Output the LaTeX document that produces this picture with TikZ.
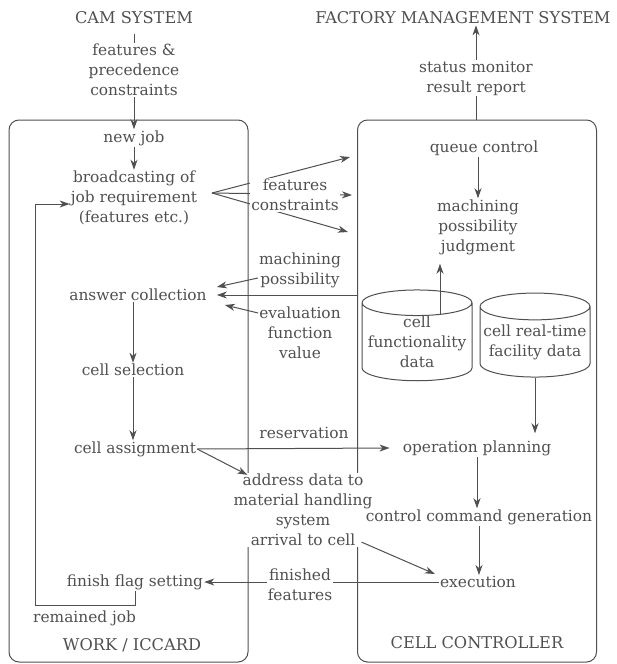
\documentclass[tikz,border=0pt]{standalone}
\usepackage{fontspec}
\setmainfont{DejaVu Serif}
\usetikzlibrary{arrows.meta,shapes.geometric}
\definecolor{ink}{HTML}{505050}
\begin{document}
\begin{tikzpicture}[x=1pt,y=-1pt,
    every node/.style={text=ink,font=\fontsize{15.4}{20}\selectfont,align=center,inner sep=1pt},
    head/.style={font=\fontsize{16.2}{20}\selectfont},
    line/.style={draw=ink,line width=1pt},
    arr/.style={line,-{Stealth[length=10pt,width=7pt,inset=3pt]}},
    cover/.style={fill=white},
    frame/.style={line,rounded corners=10pt,minimum width=239pt,minimum height=542pt},
    store/.style={cylinder,shape border rotate=90,draw=ink,line width=1pt,aspect=0.26,
        minimum width=110pt,minimum height=84pt,inner sep=0pt}]
    \useasboundingbox (0,0) rectangle (616,664);

    % Frames
    \node[frame] (workbox) at (128.5,391) {};
    \node[frame] (cellbox) at (477,391) {};

    % Outside systems
    \node[head] (cam) at (134,18) {CAM SYSTEM};
    \node[head] (fms) at (463,18) {FACTORY MANAGEMENT SYSTEM};
    \node (prec) at (134,70) {features \&\\precedence\\constraints};
    \node (status) at (476,78) {status monitor\\result report};

    % Work / ICCARD side
    \node (newjob) at (134,138) {new job};
    \node (bcast) at (134,198) {broadcasting of\\job requirement\\(features etc.)};
    \node (answer) at (138,295) {answer collection};
    \node (cellsel) at (133,370) {cell selection};
    \node (assign) at (135,449) {cell assignment};
    \node (finish) at (135,582) {finish flag setting};
    \node[anchor=west] (remained) at (32,618) {remained job};
    \node[head] (work) at (132,645) {WORK / ICCARD};

    % Broadcast fan
    \coordinate (fan) at (212,193);
    \coordinate (fan1) at (350,157);
    \coordinate (fan2) at (352,195);
    \coordinate (fan3) at (348,232);
    \foreach \t in {fan1,fan2,fan3}
        \draw[arr] (fan) -- (\t);

    % Messages between the two frames
    \node[cover] (featcon) at (295,195) {features\\constraints};
    \node (machposs) at (300,270) {machining\\possibility};
    \node (evalfv) at (300,333) {evaluation\\function\\value};
    \node (reserv) at (304,433) {reservation};
    \node[cover] (address) at (303,510) {address data to\\material handling\\system\\arrival to cell};
    \node (finfeat) at (300,585) {finished\\features};

    % Cell controller side
    \node (queue) at (484,148) {queue control};
    \node (judge) at (478,227) {machining\\possibility\\judgment};
    \node[store] (func) at (417,342) {cell\\functionality\\data};
    \node[store] (rtime) at (535,342) {cell real-time\\facility data};
    \node (plan) at (477,448) {operation planning};
    \node (ctrl) at (479,517) {control command generation};
    \node (exec) at (478,582) {execution};
    \node[head] (cellctrl) at (477,643) {CELL CONTROLLER};

    % Flow on the left
    \draw[line] ([yshift=-9pt]cam.south) -- (prec.north);
    \draw[arr] (prec.south) -- (newjob.north);
    \draw[arr] (newjob.south) -- (bcast.north);
    \draw[arr] ([yshift=-8pt]machposs.west) -- ([xshift=9pt,yshift=8pt]answer.east);
    \draw[arr] (cellbox.west |- answer) -- ([xshift=9pt]answer.east);
    \draw[arr] ([yshift=20pt]evalfv.west) -- ([xshift=17pt,yshift=-10pt]answer.east);
    \draw[arr] (cellsel.north |- answer.south) -- (cellsel.north);
    \draw[arr] (cellsel.south) -- (cellsel.south |- assign.north);
    \draw[arr] (assign.east) -- ([xshift=-12pt]plan.west);
    \draw[arr] (assign.east) -- ([xshift=15pt,yshift=-2pt]address.north west);
    \draw[arr] (finish.south) |- (35,605) |- ([yshift=-6pt]bcast.west);

    % Flow on the right
    \draw[line] (cellbox.north -| status) -- (status.south);
    \draw[arr] (status.north) -- (status.north |- fms.south);
    \draw[arr] (judge.north |- queue.south) -- (judge.north);
    \coordinate (funcout) at ([xshift=23pt,yshift=28pt]func.center);
    \draw[arr,shorten >=8pt] (funcout) -- (funcout |- judge.south);
    \draw[arr,shorten >=6pt] (rtime.south) -- (rtime.south |- plan.north);
    \draw[arr] (plan.south) -- (plan.south |- ctrl.north);
    \draw[arr] (ctrl.south) -- (ctrl.south |- exec.north);
    \draw[arr] ([xshift=-12pt,yshift=5pt]address.south east) -- ([xshift=-4pt,yshift=8pt]exec.west);
    \draw[line] (exec.west) -- (exec.west -| finfeat.east);
    \draw[arr] (finfeat.west |- exec.west) -- (finish.east);
\end{tikzpicture}
\end{document}
